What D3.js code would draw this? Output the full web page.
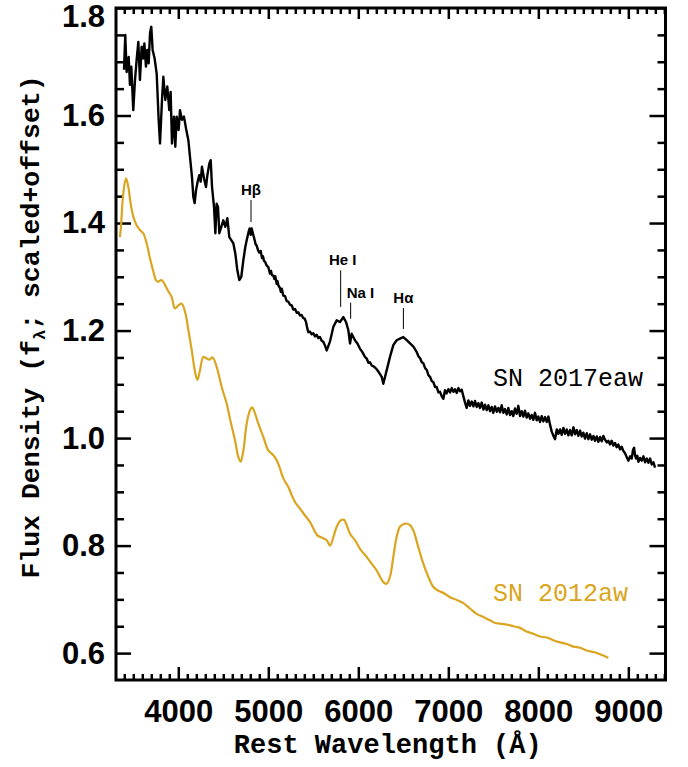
<!DOCTYPE html>
<html>
<head>
<meta charset="utf-8">
<script src="https://cdn.jsdelivr.net/npm/d3@7"></script>
<style>
  body { margin: 0; background: #fff; }
  svg { display: block; }
  .tick text { font-family: "Liberation Sans", Arial, sans-serif; font-weight: bold; font-size: 31px; fill: #000; }
</style>
</head>
<body>
<svg></svg>
<script>
// SN 2017eaw spectrum (rest wavelength in A, scaled flux)
let sn2017Wave = [3397, 3411, 3426, 3449, 3463, 3478, 3500, 3519, 3537, 3556, 3574, 3593, 3611, 3623, 3641, 3656, 3671, 3686, 3700, 3715,
  3737, 3760, 3782, 3797, 3819, 3834, 3856, 3878, 3900, 3915, 3930, 3952, 3967, 3982, 4004, 4019, 4041, 4063, 4086, 4112,
  4130, 4152, 4167, 4182, 4197, 4219, 4234, 4249, 4263, 4286, 4308, 4323, 4345, 4360, 4375, 4397, 4412, 4426, 4441, 4456,
  4478, 4500, 4523, 4545, 4567, 4589, 4612, 4634, 4656, 4678, 4700, 4723, 4745, 4760, 4782, 4793, 4805, 4815, 4830,
  4849, 4860, 4871, 4885, 4900, 4915, 4930, 4941, 4952, 4967, 4982, 5000, 5019, 5030, 5041, 5056, 5067, 5078, 5093, 5102,
  5112, 5130, 5140, 5149, 5167, 5186, 5204, 5222, 5241, 5260, 5278, 5297, 5316, 5334, 5352, 5371, 5389, 5405, 5419, 5432,
  5445, 5463, 5482, 5500, 5519, 5537, 5556, 5574, 5593, 5611, 5630, 5649, 5686, 5723, 5760, 5797, 5834, 5863, 5889, 5908,
  5926, 5963, 5990, 6019, 6045, 6074, 6093, 6112, 6130, 6149, 6175, 6204, 6222, 6241, 6260, 6278, 6296, 6315, 6352, 6389,
  6426, 6463, 6500, 6538, 6575, 6612, 6649, 6668, 6686, 6705, 6723, 6742, 6760, 6779, 6797, 6816, 6834, 6853, 6871, 6890,
  6908, 6926, 6945, 6963, 6980, 7000, 7020, 7038, 7057, 7075, 7094, 7112, 7130, 7149, 7167, 7186, 7204, 7223, 7241, 7260,
  7279, 7297, 7316, 7334, 7352, 7371, 7390, 7408, 7427, 7445, 7464, 7482, 7500, 7519, 7538, 7556, 7575, 7593, 7612, 7630,
  7649, 7667, 7686, 7704, 7722, 7741, 7760, 7778, 7797, 7815, 7834, 7852, 7871, 7889, 7908, 7926, 7945, 7963, 7982, 8000,
  8019, 8038, 8056, 8075, 8094, 8112, 8130, 8149, 8168, 8186, 8205, 8223, 8242, 8260, 8279, 8297, 8316, 8334, 8352, 8371,
  8390, 8408, 8427, 8445, 8464, 8482, 8500, 8519, 8538, 8556, 8575, 8593, 8612, 8630, 8649, 8667, 8686, 8704, 8723, 8741,
  8760, 8778, 8797, 8815, 8834, 8852, 8871, 8889, 8908, 8926, 8945, 8963, 8982, 9001, 9020, 9038, 9052, 9064, 9075, 9086,
  9100, 9112, 9130, 9149, 9168, 9186, 9205, 9223, 9242, 9260, 9279, 9297];
let sn2017Flux = [1.685, 1.750, 1.681, 1.709, 1.657, 1.691, 1.610, 1.666, 1.703, 1.737, 1.666, 1.728, 1.706, 1.734, 1.691, 1.722, 1.697, 1.753, 1.765, 1.722,
  1.706, 1.678, 1.592, 1.548, 1.629, 1.672, 1.629, 1.654, 1.610, 1.644, 1.548, 1.598, 1.542, 1.598, 1.573, 1.610, 1.592, 1.598, 1.576, 1.554,
  1.523, 1.486, 1.449, 1.437, 1.461, 1.480, 1.489, 1.477, 1.505, 1.483, 1.467, 1.489, 1.511, 1.517, 1.467, 1.430, 1.381, 1.436, 1.430, 1.381,
  1.393, 1.405, 1.393, 1.409, 1.374, 1.368, 1.362, 1.343, 1.312, 1.294, 1.300, 1.331, 1.356, 1.368, 1.384, 1.390, 1.378, 1.390, 1.380,
  1.368, 1.360, 1.358, 1.350, 1.345, 1.348, 1.335, 1.338, 1.330, 1.327, 1.321, 1.318, 1.306, 1.311, 1.303, 1.302, 1.296, 1.301, 1.287, 1.292,
  1.284, 1.279, 1.272, 1.278, 1.265, 1.264, 1.255, 1.254, 1.248, 1.247, 1.239, 1.240, 1.233, 1.234, 1.228, 1.229, 1.223, 1.222, 1.216, 1.205,
  1.197, 1.198, 1.193, 1.195, 1.189, 1.192, 1.186, 1.188, 1.181, 1.179, 1.172, 1.163, 1.180, 1.207, 1.219, 1.216, 1.225, 1.216, 1.201, 1.176,
  1.194, 1.182, 1.176, 1.166, 1.160, 1.151, 1.148, 1.140, 1.141, 1.135, 1.133, 1.128, 1.124, 1.119, 1.114, 1.101, 1.113, 1.126, 1.151, 1.173,
  1.182, 1.185, 1.188, 1.182, 1.176, 1.170, 1.160, 1.152, 1.149, 1.141, 1.139, 1.130, 1.127, 1.117, 1.114, 1.106, 1.104, 1.095, 1.095, 1.085,
  1.086, 1.078, 1.073, 1.089, 1.083, 1.091, 1.085, 1.093, 1.086, 1.091, 1.084, 1.093, 1.087, 1.090, 1.078, 1.066, 1.056, 1.070, 1.060, 1.068,
  1.059, 1.069, 1.058, 1.065, 1.056, 1.066, 1.053, 1.062, 1.052, 1.061, 1.050, 1.058, 1.047, 1.059, 1.049, 1.056, 1.048, 1.061, 1.047, 1.054,
  1.044, 1.056, 1.043, 1.050, 1.041, 1.055, 1.045, 1.060, 1.041, 1.050, 1.040, 1.051, 1.038, 1.046, 1.036, 1.043, 1.034, 1.047, 1.033, 1.040,
  1.030, 1.041, 1.031, 1.039, 1.030, 1.040, 1.025, 1.012, 1.004, 0.998, 1.016, 1.008, 1.016, 1.006, 1.019, 1.008, 1.016, 1.005, 1.015, 1.005,
  1.020, 1.007, 1.015, 1.004, 1.014, 1.003, 1.010, 0.999, 1.009, 0.998, 1.007, 0.997, 1.004, 0.995, 1.003, 0.993, 1.002, 0.994, 1.004, 0.997,
  0.992, 0.995, 0.988, 0.995, 0.986, 0.991, 0.983, 0.988, 0.979, 0.984, 0.976, 0.972, 0.965, 0.958, 0.966, 0.962, 0.978, 0.982, 0.968, 0.962,
  0.967, 0.956, 0.963, 0.958, 0.966, 0.955, 0.962, 0.954, 0.962, 0.951, 0.955, 0.945];

// SN 2012aw spectrum
let sn2012Wave = [3352, 3363, 3389, 3419, 3445, 3471, 3500, 3537, 3574, 3611, 3649, 3686, 3723, 3752, 3778, 3815, 3852, 3889, 3926, 3963,
  4001, 4038, 4075, 4112, 4149, 4186, 4212, 4241, 4278, 4315, 4345, 4382, 4427, 4482, 4538, 4574, 4630, 4667, 4693, 4723,
  4760, 4797, 4819, 4852, 4889, 4945, 5000, 5056, 5093, 5130, 5167, 5223, 5260, 5297, 5352, 5408, 5463, 5500, 5545, 5593,
  5649, 5686, 5723, 5760, 5804, 5841, 5871, 5908, 5963, 6019, 6093, 6149, 6204, 6241, 6278, 6315, 6352, 6389, 6426, 6463,
  6519, 6575, 6612, 6667, 6723, 6778, 6834, 6889, 6945, 7019, 7093, 7167, 7241, 7315, 7389, 7463, 7519, 7575, 7649, 7723,
  7797, 7871, 7945, 8019, 8093, 8167, 8241, 8315, 8389, 8463, 8538, 8612, 8686, 8741, 8778];
let sn2012Flux = [1.374, 1.393, 1.455, 1.483, 1.467, 1.436, 1.412, 1.396, 1.387, 1.381, 1.362, 1.334, 1.310, 1.294, 1.291, 1.294, 1.285, 1.273, 1.263, 1.241,
  1.247, 1.250, 1.235, 1.201, 1.164, 1.123, 1.108, 1.126, 1.151, 1.148, 1.146, 1.150, 1.132, 1.095, 1.064, 1.036, 0.996, 0.965, 0.956, 0.977,
  1.027, 1.052, 1.057, 1.046, 1.027, 1.002, 0.977, 0.968, 0.959, 0.943, 0.925, 0.909, 0.894, 0.881, 0.869, 0.856, 0.844, 0.832, 0.819, 0.815,
  0.810, 0.800, 0.816, 0.835, 0.847, 0.848, 0.838, 0.822, 0.810, 0.794, 0.779, 0.766, 0.754, 0.742, 0.732, 0.729, 0.742, 0.779, 0.816, 0.835,
  0.841, 0.838, 0.828, 0.797, 0.766, 0.742, 0.723, 0.716, 0.712, 0.704, 0.699, 0.693, 0.683, 0.673, 0.667, 0.661, 0.656, 0.655, 0.653, 0.650,
  0.647, 0.640, 0.636, 0.631, 0.629, 0.624, 0.620, 0.617, 0.612, 0.610, 0.605, 0.602, 0.598, 0.594, 0.591];

let xTicks = [4000, 5000, 6000, 7000, 8000, 9000];
let yTicks = [0.6, 0.8, 1.0, 1.2, 1.4, 1.6, 1.8];

// line identifications: label, wavelength, marker bottom / top flux
let lineNames = ['H\u03b2', 'He I', 'Na I', 'H\u03b1'];
let lineWave = [4808, 5804, 5915, 6501];
let lineLow = [1.402, 1.244, 1.222, 1.203];
let lineHigh = [1.443, 1.312, 1.252, 1.242];

let width = 688;
let height = 767;
let padLeft = 116, padRight = 665.5, padTop = 8, padBottom = 680;

let svg = d3.select('svg').attr('width', width).attr('height', height);

let xScale = d3.scaleLinear().domain([3308, 9413]).range([padLeft, padRight]);
let yScale = d3.scaleLinear().domain([0.55, 1.8]).range([padBottom, padTop]);

let xMinor = d3.range(3400, 9401, 100).filter((d) => d % 1000 !== 0);
let yMinor = d3.range(0.6, 1.76, 0.05).filter((d) => Math.abs(d * 5 - Math.round(d * 5)) > 1e-6);

let styleAxis = (g) => {
  g.select('.domain').remove();
  g.selectAll('.tick line').attr('stroke', '#000').attr('stroke-width', 2.5);
};

let drawAxes = () => {
  // bottom
  svg.append('g').attr('transform', `translate(0,${padBottom})`)
    .call(d3.axisBottom(xScale).tickValues(xTicks).tickSize(-13).tickPadding(20).tickFormat(d3.format('d')))
    .call(styleAxis);
  svg.append('g').attr('transform', `translate(0,${padBottom})`)
    .call(d3.axisBottom(xScale).tickValues(xMinor).tickSize(-6).tickFormat(''))
    .call(styleAxis);
  // top
  svg.append('g').attr('transform', `translate(0,${padTop})`)
    .call(d3.axisTop(xScale).tickValues(xTicks).tickSize(-11).tickFormat(''))
    .call(styleAxis);
  svg.append('g').attr('transform', `translate(0,${padTop})`)
    .call(d3.axisTop(xScale).tickValues(xMinor).tickSize(-6).tickFormat(''))
    .call(styleAxis);
  // left
  let yAxis = svg.append('g').attr('transform', `translate(${padLeft},0)`)
    .call(d3.axisLeft(yScale).tickValues(yTicks).tickSize(-15).tickPadding(11).tickFormat(d3.format('.1f')))
    .call(styleAxis);
  yAxis.selectAll('.tick text').filter((d) => d === 1.8).attr('y', 9);
  svg.append('g').attr('transform', `translate(${padLeft},0)`)
    .call(d3.axisLeft(yScale).tickValues(yMinor).tickSize(-8).tickFormat(''))
    .call(styleAxis);
  // right
  svg.append('g').attr('transform', `translate(${padRight},0)`)
    .call(d3.axisRight(yScale).tickValues(yTicks).tickSize(-16).tickFormat(''))
    .call(styleAxis);
  svg.append('g').attr('transform', `translate(${padRight},0)`)
    .call(d3.axisRight(yScale).tickValues(yMinor).tickSize(-8).tickFormat(''))
    .call(styleAxis);

  svg.append('rect')
    .attr('x', padLeft).attr('y', padTop)
    .attr('width', padRight - padLeft).attr('height', padBottom - padTop)
    .attr('fill', 'none').attr('stroke', '#000').attr('stroke-width', 3);
};

let drawSpectra = () => {
  let black = sn2017Wave.map((w, i) => [w, sn2017Flux[i]]);
  let gold = sn2012Wave.map((w, i) => [w, sn2012Flux[i]]);

  let smooth = d3.line().x((d) => xScale(d[0])).y((d) => yScale(d[1])).curve(d3.curveCatmullRom);
  let jagged = d3.line().x((d) => xScale(d[0])).y((d) => yScale(d[1]));

  svg.append('path')
    .datum(gold)
    .attr('d', smooth)
    .attr('fill', 'none').attr('stroke', '#DAA520').attr('stroke-width', 2.2);

  svg.append('path')
    .datum(black)
    .attr('d', jagged)
    .attr('fill', 'none').attr('stroke', '#000').attr('stroke-width', 2.4)
    .attr('stroke-linejoin', 'round');
};

let drawLabels = () => {
  // line ids
  let ids = svg.append('g');
  lineNames.forEach((name, i) => {
    let x = xScale(lineWave[i]);
    ids.append('line')
      .attr('x1', x).attr('x2', x)
      .attr('y1', yScale(lineLow[i])).attr('y2', yScale(lineHigh[i]))
      .attr('stroke', '#000').attr('stroke-width', 1);
    ids.append('text')
      .attr('x', name === 'Na I' ? x - 4 : name === 'He I' ? x + 2 : x)
      .attr('y', yScale(lineHigh[i]) - 5)
      .attr('text-anchor', name === 'Na I' ? 'start' : 'middle')
      .attr('font-family', '"Liberation Sans", Arial, sans-serif')
      .attr('font-weight', 'bold')
      .attr('font-size', 15)
      .text(name);
  });

  svg.append('text')
    .attr('x', 493).attr('y', 386)
    .attr('font-family', '"Liberation Mono", "Courier New", monospace')
    .attr('font-size', 25)
    .attr('fill', '#000')
    .text('SN 2017eaw');

  svg.append('text')
    .attr('x', 493).attr('y', 601)
    .attr('font-family', '"Liberation Mono", "Courier New", monospace')
    .attr('font-size', 25)
    .attr('fill', '#DAA520')
    .text('SN 2012aw');

  // axis titles
  svg.append('text')
    .attr('x', (padLeft + padRight) / 2 - 3).attr('y', 753)
    .attr('text-anchor', 'middle')
    .attr('font-family', '"Liberation Mono", "Courier New", monospace')
    .attr('font-weight', 'bold')
    .attr('font-size', 27)
    .text('Rest Wavelength (\u00c5)');

  let yTitle = svg.append('text')
    .attr('transform', 'translate(39,327) rotate(-90)')
    .attr('text-anchor', 'middle')
    .attr('font-family', '"Liberation Mono", "Courier New", monospace')
    .attr('font-weight', 'bold')
    .attr('font-size', 26.5);
  yTitle.append('tspan').text('Flux Density (f');
  yTitle.append('tspan').attr('font-size', 17).attr('dy', 6).text('\u03bb');
  yTitle.append('tspan').attr('dy', -6).text('; scaled+offset)');
};

drawAxes();
drawSpectra();
drawLabels();
</script>
</body>
</html>
